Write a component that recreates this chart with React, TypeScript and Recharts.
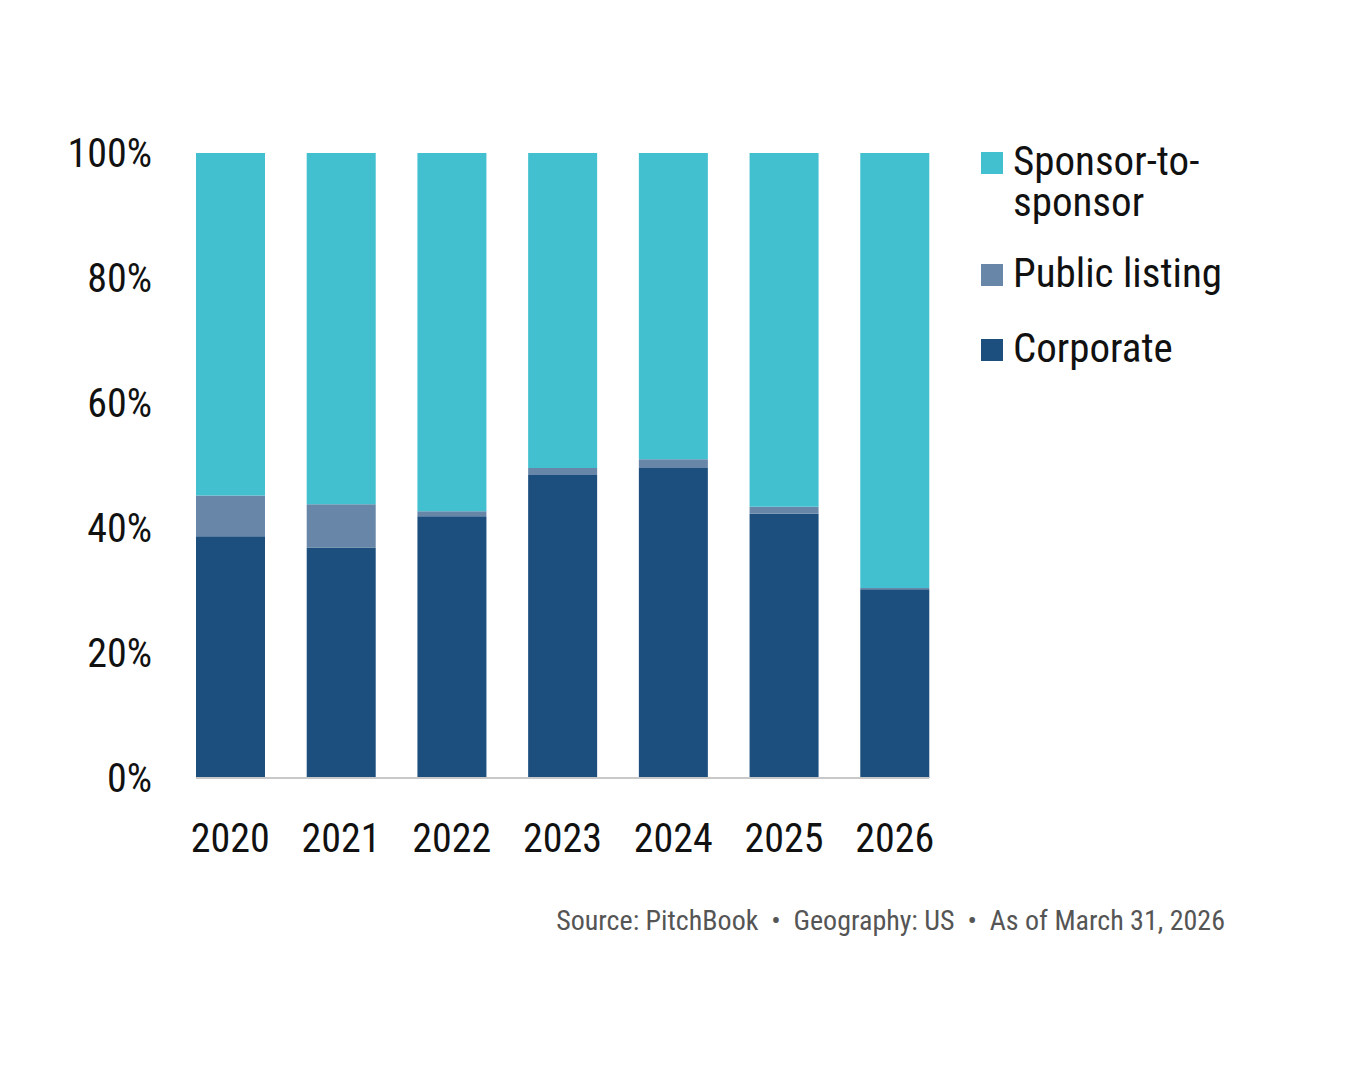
import { BarChart, Bar, XAxis, YAxis, Legend } from 'recharts';

const YEARS = ['2020', '2021', '2022', '2023', '2024', '2025', '2026'];
const CORPORATE = [38.7, 36.9, 41.9, 48.5, 49.6, 42.3, 30.2];
const PUBLIC_LISTING = [6.5, 6.9, 0.8, 1.1, 1.4, 1.1, 0.2];
const SPONSOR = [54.8, 56.2, 57.3, 50.4, 49.0, 56.6, 69.6];
const Y_TICKS = [0, 20, 40, 60, 80, 100];

const COLORS = {
  sponsor: '#42C0CF',
  publicListing: '#6786A8',
  corporate: '#1C4E7E',
};

const FONT = "'Roboto Condensed', 'Liberation Sans Narrow', 'DejaVu Sans Condensed', Roboto, sans-serif";

const data = YEARS.map((year, i) => ({
  year,
  corporate: CORPORATE[i],
  publicListing: PUBLIC_LISTING[i],
  sponsor: SPONSOR[i],
}));

// legend order follows the stack from top to bottom
const LEGEND_ITEMS = [
  { label: 'Sponsor-to-sponsor', color: COLORS.sponsor, gap: 30 },
  { label: 'Public listing', color: COLORS.publicListing, gap: 34 },
  { label: 'Corporate', color: COLORS.corporate, gap: 0 },
];

function LegendBox() {
  return (
    <div style={{ fontFamily: FONT, fontSize: 41, color: '#111' }}>
      {LEGEND_ITEMS.map((item) => (
        <div key={item.color} style={{ display: 'flex', alignItems: 'flex-start', marginBottom: item.gap }}>
          <div style={{ width: 22, height: 22, background: item.color, marginTop: 11, marginRight: 10, flexShrink: 0 }} />
          {/* narrow box so the long label wraps after the hyphen */}
          <div style={{ lineHeight: '41px', width: 215 }}>{item.label}</div>
        </div>
      ))}
    </div>
  );
}

export default function App() {
  return (
    <div style={{ position: 'relative', width: 1334, height: 1000 }}>
      <BarChart
        width={1334}
        height={880}
        data={data}
        margin={{ top: 145, right: 113, bottom: 10, left: 0 }}
      >
        <XAxis
          dataKey="year"
          axisLine={{ stroke: '#c8c8c8', strokeWidth: 2 }}
          tickLine={false}
          tickMargin={40}
          padding={{ left: -21, right: -21 }}
          tick={{ fontFamily: FONT, fontSize: 40, fill: '#111' }}
          interval={0}
          height={100}
        />
        <YAxis
          domain={[0, 100]}
          ticks={Y_TICKS}
          tickFormatter={(v) => `${v}%`}
          axisLine={false}
          tickLine={false}
          tickMargin={38}
          width={188}
          tick={{ fontFamily: FONT, fontSize: 40, fill: '#111' }}
        />
        <Legend
          layout="vertical"
          align="right"
          verticalAlign="top"
          content={() => <LegendBox />}
          wrapperStyle={{ left: 973, top: 133, width: 300 }}
        />
        <Bar dataKey="corporate" stackId="a" fill={COLORS.corporate} barSize={69} isAnimationActive={false} />
        <Bar dataKey="publicListing" stackId="a" fill={COLORS.publicListing} barSize={69} isAnimationActive={false} />
        <Bar dataKey="sponsor" stackId="a" fill={COLORS.sponsor} barSize={69} isAnimationActive={false} />
      </BarChart>
      <div
        style={{
          position: 'absolute',
          right: 1334 - 1217,
          top: 896,
          fontFamily: FONT,
          fontSize: 28,
          color: '#555',
          whiteSpace: 'pre',
        }}
      >
        {'Source: PitchBook  •  Geography: US  •  As of March 31, 2026'}
      </div>
    </div>
  );
}
